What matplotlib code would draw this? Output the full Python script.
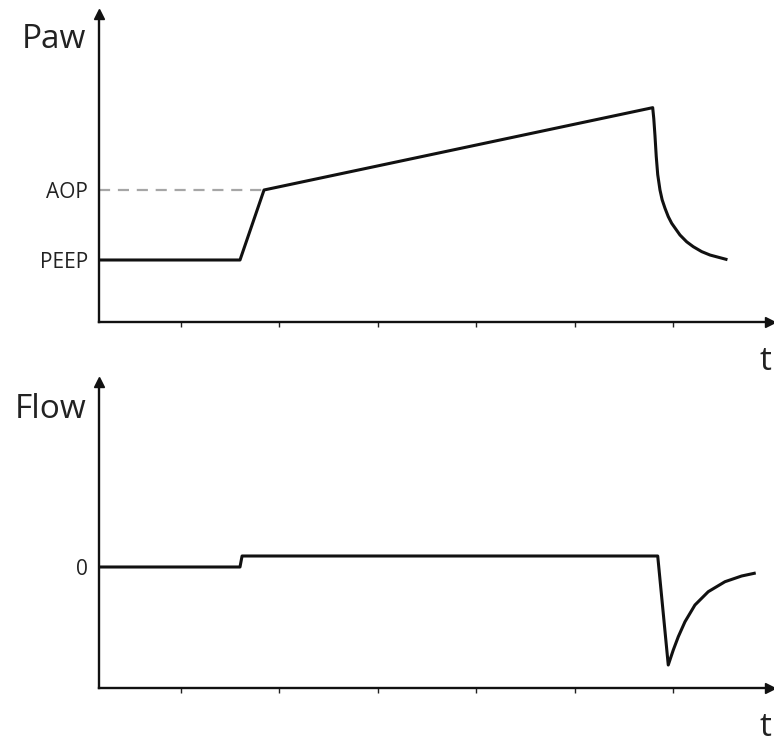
import matplotlib

matplotlib.use("Agg")

import matplotlib.pyplot as plt  # noqa: E402

plt.rcParams["font.family"] = ["Open Sans", "DejaVu Sans"]

W, H = 774, 744

# pressure trace (time in tick units, pressure arbitrary units)
paw_t = [0.1675, 1.599, 1.843, 5.789, 5.800, 5.812, 5.825, 5.840, 5.863,
         5.885, 5.914, 5.947, 5.982, 6.066, 6.134, 6.201, 6.286, 6.371, 6.533]
paw_v = [5.0, 5.0, 15.0, 26.76, 25.2, 22.8, 19.8, 17.2, 15.0,
         13.6, 12.39, 11.2, 10.24, 8.57, 7.6, 6.90, 6.2, 5.71, 5.10]
PEEP = 5.0
AOP = 15.0

# flow trace
flow_t = [0.1675, 1.599, 1.62, 5.840, 5.947, 5.998, 6.049, 6.117, 6.218,
          6.353, 6.523, 6.692, 6.820]
flow_v = [0.0, 0.0, 1.1, 1.1, -9.8, -8.3, -6.97, -5.47, -3.8,
          -2.47, -1.47, -0.9, -0.63]

time_ticks = [1, 2, 3, 4, 5, 6]


def px_rect(left, top, right, bottom):
    return [left / W, 1 - bottom / H, (right - left) / W, (bottom - top) / H]


def style_axis(ax, xlim, ylim):
    ax.set_xlim(*xlim)
    ax.set_ylim(*ylim)
    for side in ("top", "right"):
        ax.spines[side].set_visible(False)
    for side in ("left", "bottom"):
        ax.spines[side].set_linewidth(1.7)
        ax.spines[side].set_color("#111")
    ax.plot(1, 0, ">", color="#111", ms=7, transform=ax.transAxes, clip_on=False)
    ax.plot(0, 1, "^", color="#111", ms=7, transform=ax.transAxes, clip_on=False)
    ax.set_xticks(time_ticks)
    ax.set_xticklabels([])
    ax.tick_params(axis="x", direction="out", length=3.5, width=1.0, color="#222")
    ax.tick_params(axis="y", length=0, pad=8, labelsize=15, labelcolor="#222")
    ax.patch.set_alpha(0)


fig = plt.figure(figsize=(W / 100, H / 100), dpi=100)

ax1 = fig.add_axes(px_rect(99, 14, 770, 322))
style_axis(ax1, (0.1675, 6.98), (-3.857, 40.14))
ax1.plot([0.1675, 1.843], [AOP, AOP], color="#a6a6a6", lw=1.6, dashes=(5, 3.5))
ax1.plot(paw_t, paw_v, color="#111", lw=2.2, solid_joinstyle="round")
ax1.set_yticks([PEEP, AOP])
ax1.set_yticklabels(["PEEP", "AOP"])

ax2 = fig.add_axes(px_rect(99, 382, 770, 688))
style_axis(ax2, (0.1675, 6.98), (-12.1, 18.5))
ax2.plot(flow_t, flow_v, color="#111", lw=2.2, solid_joinstyle="round")
ax2.set_yticks([0])
ax2.set_yticklabels(["0"])

fig.text(86 / W, 1 - 40 / H, "Paw", fontsize=24, ha="right", va="center", color="#222")
fig.text(86 / W, 1 - 410 / H, "Flow", fontsize=24, ha="right", va="center", color="#222")
fig.text(765 / W, 1 - 362 / H, "t", fontsize=24, ha="center", va="center", color="#222")
fig.text(765 / W, 1 - 727 / H, "t", fontsize=24, ha="center", va="center", color="#222")

fig.savefig("out.png", dpi=100)
